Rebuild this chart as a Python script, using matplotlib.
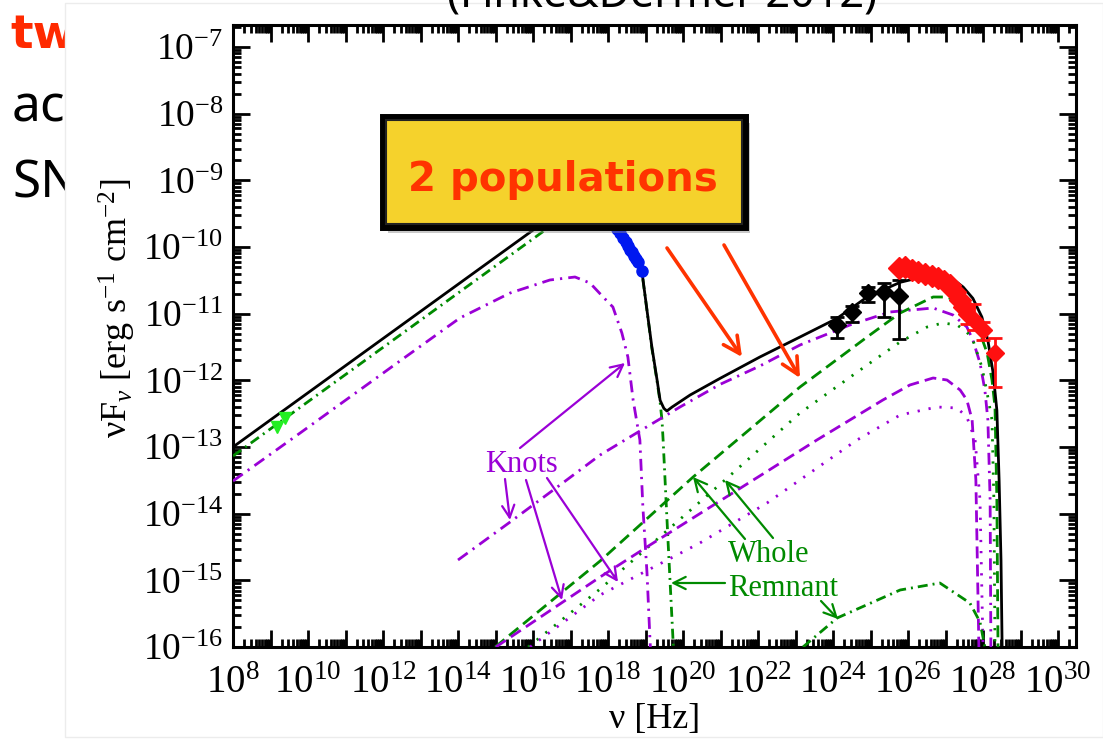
import numpy as np
import matplotlib
matplotlib.use('Agg')
import matplotlib.pyplot as plt
from matplotlib.patches import Rectangle
from matplotlib.ticker import LogLocator, FuncFormatter, NullFormatter

plt.rcParams['font.family'] = ['Liberation Serif', 'DejaVu Serif']
plt.rcParams['mathtext.fontset'] = 'custom'
plt.rcParams['mathtext.rm'] = 'Liberation Serif'
plt.rcParams['mathtext.it'] = 'Liberation Serif:italic'

W, H = 1103, 749

# model curves, log10(nu/Hz) and log10(nuFnu / erg s^-1 cm^-2)
total_x = [8.0, 16.19, 16.8, 17.3, 17.8, 18.1, 18.32, 18.67, 18.91, 19.04, 19.17, 19.31,
           19.39, 19.49, 19.57, 19.71, 20.19, 20.99, 22.05, 23.12, 24.11, 24.91, 25.79,
           26.67, 27.12, 27.47, 27.73, 27.97, 28.13, 28.27, 28.37, 28.43, 28.48, 28.51]
total_y = [-13.0, -9.67, -9.45, -9.38, -9.45, -9.55, -9.75, -10.09, -10.39, -10.95, -11.5, -12.0,
           -12.3, -12.42, -12.46, -12.4, -12.22, -11.97, -11.65, -11.35, -11.07, -10.75, -10.53,
           -10.41, -10.45, -10.6, -10.77, -11.05, -11.4, -11.89, -12.45, -13.5, -14.7, -16.0]

whole_syn_x = [8.0, 16.19, 16.8, 17.3, 17.8, 18.1, 18.32, 18.67, 18.91, 19.04, 19.17, 19.31,
               19.39, 19.44, 19.47, 19.6, 19.73, 19.76]
whole_syn_y = [-13.135, -9.80, -9.55, -9.45, -9.5, -9.6, -9.76, -10.10, -10.40, -10.955, -11.52,
               -12.02, -12.33, -12.6, -12.9, -14.4, -15.85, -16.2]

knots_syn_x = [8.0, 9.79, 12.45, 14.05, 15.39, 16.45, 17.12, 17.52, 17.87, 18.13, 18.37, 18.53,
               18.67, 18.85, 18.93, 19.04, 19.12, 19.15]
knots_syn_y = [-13.51, -12.79, -11.71, -11.065, -10.69, -10.495, -10.45, -10.54, -10.75, -10.9,
               -11.29, -11.65, -12.295, -12.895, -13.9, -14.89, -15.895, -16.2]

knots_ic_x = [14.0, 15.39, 16.72, 17.79, 18.85, 19.92, 20.99, 22.05, 23.12, 24.45, 25.52, 26.67,
              27.2, 27.57, 27.73, 27.92, 28.05, 28.13, 28.19, 28.21]
knots_ic_y = [-14.695, -14.125, -13.57, -13.12, -12.76, -12.40, -12.06, -11.785, -11.47, -11.17,
              -10.975, -10.915, -11.02, -11.2, -11.395, -11.74, -12.145, -12.595, -13.795, -16.0]

whole_dash_x = [14.99, 17.79, 20.27, 23.12, 24.91, 25.79, 26.67, 27.04, 27.39, 27.65, 27.92,
                28.11, 28.24, 28.32, 28.37, 28.4]
whole_dash_y = [-16.0, -14.71, -13.45, -12.1, -11.35, -10.99, -10.75, -10.75, -10.84, -10.99,
                -11.29, -11.59, -11.995, -12.4, -13.795, -16.0]

whole_dot_x = [15.87, 17.79, 21.12, 23.12, 24.91, 25.79, 26.51, 26.93, 27.31, 27.57, 27.73,
               27.97, 28.11, 28.24, 28.29, 28.32]
whole_dot_y = [-16.0, -15.13, -13.495, -12.49, -11.77, -11.425, -11.2, -11.14, -11.17, -11.275,
               -11.395, -11.8, -12.19, -12.595, -13.795, -16.0]

knots_dash_x = [15.01, 17.79, 19.12, 23.57, 24.45, 25.33, 26.05, 26.67, 27.04, 27.39, 27.57,
                27.71, 27.81, 27.89]
knots_dash_y = [-16.0, -14.95, -14.47, -12.895, -12.595, -12.295, -12.07, -11.965, -11.995,
                -12.145, -12.295, -12.595, -13.495, -16.0]

knots_dot_x = [15.92, 17.79, 20.45, 22.24, 24.64, 25.79, 26.77, 27.31, 27.57, 27.79, 27.92, 28.0]
knots_dot_y = [-16.0, -15.22, -14.44, -13.84, -12.895, -12.52, -12.4, -12.415, -12.55, -12.895,
               -13.795, -16.0]

whole_low_x = [23.2, 24.11, 25.79, 26.85, 27.65, 27.92, 28.05]
whole_low_y = [-16.0, -15.565, -15.145, -15.04, -15.34, -15.625, -16.0]

# data points
radio_x = [9.17, 9.39]
radio_y = [-12.70, -12.565]

xray_x = [18.13, 18.24, 18.32, 18.40, 18.48, 18.53, 18.59, 18.64, 18.69, 18.75, 18.80, 18.91]
xray_y = [-9.64, -9.73, -9.79, -9.865, -9.925, -9.985, -10.045, -10.075, -10.135, -10.18,
          -10.225, -10.36]

fermi_x = [24.11, 24.51, 24.93, 25.36, 25.76]
fermi_y = [-11.17, -10.975, -10.69, -10.675, -10.735]
fermi_lo = [-11.365, -11.125, -10.825, -11.045, -11.38]
fermi_hi = [-11.05, -10.885, -10.60, -10.54, -10.495]

hess_x = [25.76, 25.92, 26.11, 26.27, 26.45, 26.64, 26.80, 26.96, 27.12, 27.25, 27.39, 27.49]
hess_y = [-10.31, -10.30, -10.345, -10.375, -10.405, -10.435, -10.465, -10.51, -10.57, -10.675,
          -10.795, -10.90]
hess_err_x = [27.57, 27.75, 28.0, 28.32]
hess_err_y = [-11.0, -11.10, -11.25, -11.59]
hess_err_lo = [-11.15, -11.25, -11.40, -12.10]
hess_err_hi = [-10.92, -10.85, -11.12, -11.37]

PURPLE = '#9a00d6'
GREEN = '#008a00'
RED = '#ff3300'


def fpx(x, y):
    # reference pixel -> figure fraction
    return (x / W, 1 - y / H)


def p10(v):
    return 10.0 ** np.asarray(v, dtype=float)


fig = plt.figure(figsize=(W / 100, H / 100), dpi=100)

# slide text behind the pasted figure
fig.text(10 / W, 1 - 48 / H, 'tw', color='#ff2a00', fontsize=34, fontweight='bold',
         family='DejaVu Sans', zorder=-3)
fig.text(12 / W, 1 - 122 / H, 'ac', color='black', fontsize=37, family='Noto Sans', zorder=-3)
fig.text(12 / W, 1 - 198 / H, 'SN', color='black', fontsize=37, family='Noto Sans', zorder=-3)
fig.add_artist(Rectangle(fpx(65, 737), (W - 65) / W, (737 - 3) / H, transform=fig.transFigure,
                         facecolor='white', edgecolor='#ececec', lw=1, zorder=-2))

ax = fig.add_axes([233 / W, 1 - 647 / H, (1076 - 233) / W, (647 - 25) / H])
ax.set_xscale('log')
ax.set_yscale('log')
ax.set_xlim(1e8, 10 ** 30.48)
ax.set_ylim(1e-16, 10 ** -6.67)

lw_main = 2.0
ax.plot(p10(total_x), p10(total_y), color='black', lw=lw_main, zorder=5)
ax.plot(p10(whole_syn_x), p10(whole_syn_y), color=GREEN, lw=lw_main,
        dashes=(3.6, 1.8, 0.7, 1.8), zorder=4)
ax.plot(p10(knots_syn_x), p10(knots_syn_y), color=PURPLE, lw=lw_main,
        dashes=(4.3, 2.2, 0.8, 2.2), zorder=4)
ax.plot(p10(knots_ic_x), p10(knots_ic_y), color=PURPLE, lw=lw_main,
        dashes=(4.3, 2.2, 0.8, 2.2), zorder=4)
ax.plot(p10(whole_dash_x), p10(whole_dash_y), color=GREEN, lw=lw_main, dashes=(4.3, 2.2), zorder=4)
ax.plot(p10(whole_dot_x), p10(whole_dot_y), color=GREEN, lw=lw_main, dashes=(0.8, 3.2), zorder=4)
ax.plot(p10(knots_dash_x), p10(knots_dash_y), color=PURPLE, lw=lw_main, dashes=(4.3, 2.2), zorder=4)
ax.plot(p10(knots_dot_x), p10(knots_dot_y), color=PURPLE, lw=lw_main, dashes=(0.8, 3.2), zorder=4)
ax.plot(p10(whole_low_x), p10(whole_low_y), color=GREEN, lw=lw_main,
        dashes=(3.6, 1.8, 0.7, 1.8), zorder=4)

ax.plot(p10(radio_x), p10(radio_y), 'v', color='#22ee22', ms=8, zorder=6)
ax.plot(p10(xray_x), p10(xray_y), 'o', color='#0018f0', ms=8, zorder=6)

fy = p10(fermi_y)
ax.errorbar(p10(fermi_x), fy, yerr=[fy - p10(fermi_lo), p10(fermi_hi) - fy], fmt='D',
            color='black', ms=9, elinewidth=2, capsize=5, capthick=2, zorder=7)
ax.plot(p10(hess_x), p10(hess_y), 'D', color='#ff1010', ms=11, zorder=7)
hy = p10(hess_err_y)
ax.errorbar(p10(hess_err_x), hy, yerr=[hy - p10(hess_err_lo), p10(hess_err_hi) - hy], fmt='D',
            color='#ff1010', ms=9, elinewidth=2, capsize=5, capthick=2, zorder=7)

# axes styling
ax.xaxis.set_major_locator(LogLocator(base=10, numticks=50))
ax.xaxis.set_minor_locator(LogLocator(base=10, subs=np.arange(2, 10), numticks=50))
ax.yaxis.set_major_locator(LogLocator(base=10, numticks=50))
ax.yaxis.set_minor_locator(LogLocator(base=10, subs=np.arange(2, 10), numticks=50))
ax.xaxis.set_minor_formatter(NullFormatter())
ax.yaxis.set_minor_formatter(NullFormatter())


def xfmt(v, pos):
    e = int(round(np.log10(v)))
    return '$10^{%d}$' % e if e % 2 == 0 else ''


def yfmt(v, pos):
    e = int(round(np.log10(v)))
    return '$10^{%d}$' % e


ax.xaxis.set_major_formatter(FuncFormatter(xfmt))
ax.yaxis.set_major_formatter(FuncFormatter(yfmt))
ax.tick_params(which='both', direction='in', top=True, right=True, width=2)
ax.tick_params(which='major', length=12)
ax.tick_params(which='minor', length=6)
ax.tick_params(axis='x', pad=13, labelsize=28)
ax.tick_params(axis='y', pad=7, labelsize=27)
for s in ax.spines.values():
    s.set_linewidth(2.2)

ax.set_xlabel('ν [Hz]', fontsize=26, labelpad=1)
ax.set_ylabel('νF$_{ν}$ [erg s$^{-1}$ cm$^{-2}$]', fontsize=26)
ax.yaxis.set_label_coords(-0.113, 0.545)

# arrows and labels
def arrow(x0, y0, x1, y1, color, lw, scale):
    ax.annotate('', xy=fpx(x1, y1), xytext=fpx(x0, y0), xycoords='figure fraction',
                textcoords='figure fraction',
                arrowprops=dict(arrowstyle='->', color=color, lw=lw, shrinkA=0, shrinkB=0,
                                mutation_scale=scale), zorder=8)


arrow(667, 248, 742, 357, RED, 2.6, 30)
arrow(724, 245, 800, 378, RED, 2.6, 30)

fig.text(*fpx(521, 464), 'Knots', color=PURPLE, fontsize=22, ha='center', va='center')
arrow(520, 448, 625, 363, PURPLE, 1.6, 22)
arrow(505, 479, 510, 520, PURPLE, 1.6, 22)
arrow(526, 480, 562, 600, PURPLE, 1.6, 22)
arrow(547, 478, 618, 582, PURPLE, 1.6, 22)

fig.text(*fpx(728, 555), 'Whole', color=GREEN, fontsize=22, ha='left', va='center')
fig.text(*fpx(728, 588), 'Remnant', color=GREEN, fontsize=22, ha='left', va='center')
arrow(745, 539, 693, 477, GREEN, 1.6, 22)
arrow(773, 538, 725, 480, GREEN, 1.6, 22)
arrow(725, 583, 671, 583, GREEN, 1.6, 22)
arrow(821, 601, 838, 619, GREEN, 1.6, 22)

# "2 populations" callout box
fig.add_artist(Rectangle(fpx(388, 233), (745 - 383) / W, (227 - 117) / H,
                         transform=fig.transFigure, facecolor='#888888', alpha=0.45,
                         edgecolor='none', zorder=9))
fig.add_artist(Rectangle(fpx(383, 227), (745 - 383) / W, (227 - 117) / H,
                         transform=fig.transFigure, facecolor='#f5d22c', edgecolor='black',
                         lw=5, zorder=10))
fig.add_artist(Rectangle(fpx(386, 224), (739 - 383) / W, (221 - 117) / H,
                         transform=fig.transFigure, facecolor='none', edgecolor='#222222',
                         lw=1.5, zorder=10))
fig.text(*fpx(563, 180), '2 populations', color=RED, fontsize=29, fontweight='bold',
         family='DejaVu Sans', ha='center', va='center', zorder=11)

fig.text(447 / W, 1 - 7 / H, '(Finke&Dermer 2012)', color='black', fontsize=31,
         family='Noto Sans', ha='left', va='baseline', zorder=11)

fig.savefig('out.png', dpi=100)
